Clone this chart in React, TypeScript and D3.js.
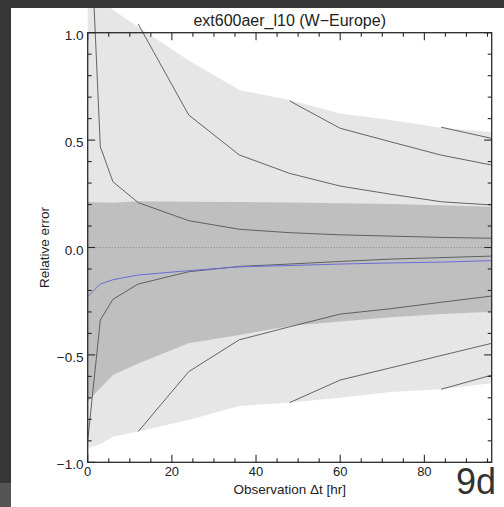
import React from 'react'
import * as d3 from 'd3'

// forecast lead times (hr)
const hours = [0, 3, 6, 12, 24, 36, 48, 60, 72, 84, 96]

// shaded bands
const outerUpper = [2.0, 1.16, 1.106, 1.027, 0.87, 0.733, 0.687, 0.624, 0.593, 0.558, 0.538]
const outerLower = [-0.935, -0.915, -0.881, -0.857, -0.803, -0.738, -0.722, -0.7, -0.673, -0.66, -0.632]
const innerUpper = [0.213, 0.21, 0.208, 0.215, 0.213, 0.212, 0.21, 0.206, 0.203, 0.197, 0.19]
const innerLower = [-0.718, -0.654, -0.594, -0.54, -0.446, -0.407, -0.365, -0.345, -0.325, -0.31, -0.299]

// mean relative error (blue)
const meanErr = [-0.229, -0.17, -0.15, -0.128, -0.108, -0.09, -0.084, -0.077, -0.072, -0.068, -0.061]

// thin gray curves (null = not drawn)
const upper1 = [1.79, 0.469, 0.306, 0.209, 0.125, 0.085, 0.069, 0.059, 0.053, 0.047, 0.043]
const upper2 = [null, null, null, 1.04, 0.617, 0.431, 0.345, 0.286, 0.248, 0.213, 0.198]
const upper3 = [null, null, null, null, null, null, 0.682, 0.555, 0.492, 0.43, 0.384]
const upper4 = [null, null, null, null, null, null, null, null, null, 0.56, 0.508]
const lower1 = [-0.9, -0.338, -0.241, -0.17, -0.113, -0.088, -0.077, -0.065, -0.054, -0.047, -0.04]
const lower2 = [null, null, null, -0.857, -0.578, -0.43, -0.369, -0.31, -0.285, -0.255, -0.226]
const lower3 = [null, null, null, null, null, null, -0.722, -0.617, -0.56, -0.503, -0.446]
const lower4 = [null, null, null, null, null, null, null, null, null, -0.66, -0.594]

const yTicks = [-1, -0.5, 0, 0.5, 1]
const xTicks = [0, 20, 40, 60, 80]

const W = 504
const H = 507
const font = 'Liberation Sans, Arial, Helvetica, sans-serif'
const axisColor = '#2a2a2a'

export default function App() {
  const x = d3.scaleLinear().domain([0, 96]).range([87.7, 491.7])
  const y = d3.scaleLinear().domain([-1, 1]).range([462.3, 32.7])
  const [x0, x1] = x.range()
  const [y0, y1] = y.range()

  const band = (hi: number[], lo: number[]) =>
    d3.area<number>()
      .x(i => x(hours[i]))
      .y0(i => y(lo[i]))
      .y1(i => y(hi[i]))(hours.map((_, i) => i)) || ''

  const line = (vals: (number | null)[]) =>
    d3.line<number>()
      .defined(i => vals[i] != null)
      .x(i => x(hours[i]))
      .y(i => y(vals[i] as number))(hours.map((_, i) => i)) || ''

  const grayLines = [upper1, upper2, upper3, upper4, lower1, lower2, lower3, lower4]

  const xMinor = d3.range(0, 96.01, 5)
  const yMinor = d3.range(-1, 1.001, 0.1)

  return (
    <svg width={W} height={H} style={{ position: 'absolute', left: 0, top: 0 }}>
      <defs>
        <clipPath id="panel">
          <rect x={11} y={8} width={W - 11} height={H - 8} />
        </clipPath>
      </defs>
      <rect x={0} y={0} width={W} height={H} fill="#363636" />
      <rect x={0} y={483} width={11} height={H - 483} fill="#555" />
      <rect x={11} y={8} width={W - 11} height={H - 8} fill="#fff" />

      <g clipPath="url(#panel)">
        <path d={band(outerUpper, outerLower)} fill="#e6e6e6" />
        <path d={band(innerUpper, innerLower)} fill="#bfbfbf" />
        <line x1={x0} x2={x1} y1={y(0)} y2={y(0)} stroke="#777" strokeWidth={0.8} strokeDasharray="1,2" />
        {grayLines.map((v, k) => (
          <path key={k} d={line(v)} fill="none" stroke="#555" strokeWidth={0.9} />
        ))}
        <path d={line(meanErr)} fill="none" stroke="#6b6bd6" strokeWidth={1} />
      </g>

      {/* frame */}
      <rect x={x0} y={y1} width={x1 - x0} height={y0 - y1} fill="none" stroke={axisColor} strokeWidth={1.3} />

      {/* ticks on all four sides */}
      {xMinor.map(v => {
        const len = v % 20 === 0 ? 7.5 : 4
        return (
          <g key={'x' + v} stroke={axisColor} strokeWidth={1.1}>
            <line x1={x(v)} x2={x(v)} y1={y0} y2={y0 - len} />
            <line x1={x(v)} x2={x(v)} y1={y1} y2={y1 + len} />
          </g>
        )
      })}
      {yMinor.map((v, k) => {
        const len = k % 5 === 0 ? 7.5 : 4
        return (
          <g key={'y' + k} stroke={axisColor} strokeWidth={1.1}>
            <line x1={x0} x2={x0 + len} y1={y(v)} y2={y(v)} />
            <line x1={x1} x2={x1 - len} y1={y(v)} y2={y(v)} />
          </g>
        )
      })}

      <g fontFamily={font} fill="#222">
        {xTicks.map(v => (
          <text key={v} x={x(v)} y={476} fontSize={13} textAnchor="middle">{v}</text>
        ))}
        {yTicks.map(v => (
          <text key={v} x={83.5} y={y(v) + 7} fontSize={13.5} textAnchor="end">
            {d3.format('.1f')(v).replace('-', '\u2212')}
          </text>
        ))}
        <text x={(x0 + x1) / 2} y={494} fontSize={13.5} textAnchor="middle">Observation Δt [hr]</text>
        <text transform={`translate(49,${y(0)}) rotate(-90)`} fontSize={13.5} textAnchor="middle">Relative error</text>
      </g>

      <text x={(x0 + x1) / 2} y={26} textAnchor="middle" fontFamily={font} fontSize={16} fill="#222">
        ext600aer_l10 (W−Europe)
      </text>

      <text x={496} y={494} textAnchor="end" fontFamily={font} fontSize={36} fill="#333">9d</text>
    </svg>
  )
}
